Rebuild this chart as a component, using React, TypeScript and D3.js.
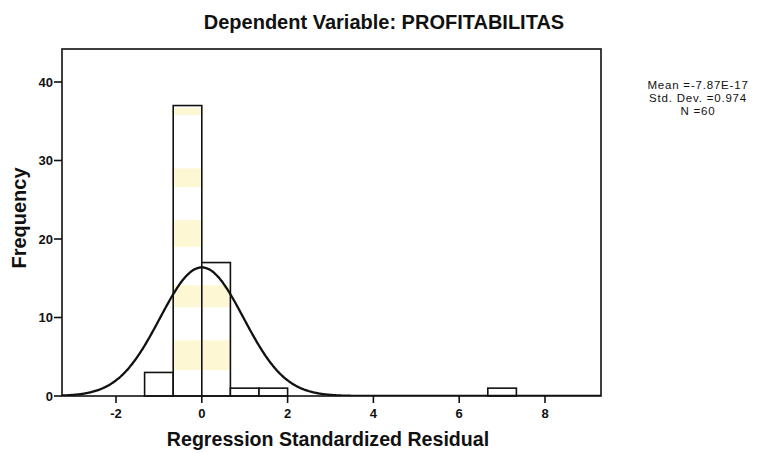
import React from 'react';
import * as d3 from 'd3';

// histogram bins (left edges, width 2/3) and counts
const binStarts = [-4 / 3, -2 / 3, 0, 2 / 3, 4 / 3, 20 / 3];
const counts = [3, 37, 17, 1, 1, 1];
const binWidth = 2 / 3;

const xTicks = [-2, 0, 2, 4, 6, 8];
const yTicks = [0, 10, 20, 30, 40];

// fitted normal reported by SPSS
const mean = -7.87e-17;
const stdDev = 0.974;
const n = 60;
const statLines = ['Mean =-7.87E-17', 'Std. Dev. =0.974', 'N =60'];

// faint yellow scan bands across the two middle bars (in frequency units)
const bands: [number, number][] = [
  [35.8, 36.7],
  [26.6, 29],
  [19, 22.4],
  [11.3, 14.1],
  [3.3, 7.1],
];

const W = 757;
const H = 453;
const frame = { left: 62, right: 601, top: 49, bottom: 396 };

const font = '"Liberation Sans", Arial, sans-serif';

export default function App() {
  const x = d3.scaleLinear().domain([-2, 8]).range([116, 545]);
  const y = d3.scaleLinear().domain([0, 40]).range([396, 82]);

  const xMin = x.invert(frame.left);
  const xMax = x.invert(frame.right);
  const pdf = (v: number) =>
    (n * binWidth) / (stdDev * Math.sqrt(2 * Math.PI)) *
    Math.exp(-((v - mean) ** 2) / (2 * stdDev * stdDev));
  const curvePts = d3.range(xMin, xMax, 0.02).concat([xMax]);
  const line = d3
    .line<number>()
    .x(d => x(d))
    .y(d => y(pdf(d)))
    .curve(d3.curveBasis);

  return (
    <div style={{ position: 'fixed', left: 0, top: 0, background: '#fff' }}>
      <svg width={W} height={H} viewBox={`0 0 ${W} ${H}`} style={{ display: 'block' }}>
        <rect width={W} height={H} fill="#fff" />
        <defs>
          <clipPath id="plot">
            <rect
              x={frame.left}
              y={frame.top}
              width={frame.right - frame.left}
              height={frame.bottom - frame.top}
            />
          </clipPath>
        </defs>

        <text
          x={384}
          y={29}
          textAnchor="middle"
          fontFamily={font}
          fontWeight="bold"
          fontSize={20}
          fill="#111"
        >
          Dependent Variable: PROFITABILITAS
        </text>

        {/* bars */}
        {binStarts.map((b, i) => (
          <g key={i}>
            <rect
              x={x(b)}
              y={y(counts[i])}
              width={x(b + binWidth) - x(b)}
              height={y(0) - y(counts[i])}
              fill="#fff"
            />
            {counts[i] > 10 &&
              bands
                .filter(([lo]) => lo < counts[i])
                .map(([lo, hi], j) => (
                  <rect
                    key={j}
                    x={x(b) + 1}
                    y={y(Math.min(hi, counts[i]))}
                    width={x(b + binWidth) - x(b) - 2}
                    height={y(lo) - y(Math.min(hi, counts[i]))}
                    fill="#fbf1a8"
                    opacity={0.5}
                  />
                ))}
            <rect
              x={x(b)}
              y={y(counts[i])}
              width={x(b + binWidth) - x(b)}
              height={y(0) - y(counts[i])}
              fill="none"
              stroke="#111"
              strokeWidth={1.6}
            />
          </g>
        ))}

        {/* normal curve */}
        <path
          d={line(curvePts) || ''}
          fill="none"
          stroke="#111"
          strokeWidth={2.3}
          clipPath="url(#plot)"
        />

        {/* frame */}
        <rect
          x={frame.left}
          y={frame.top}
          width={frame.right - frame.left}
          height={frame.bottom - frame.top}
          fill="none"
          stroke="#111"
          strokeWidth={1.6}
        />

        {/* y axis */}
        {yTicks.map(t => (
          <g key={t}>
            <line x1={frame.left - 8} x2={frame.left} y1={y(t)} y2={y(t)} stroke="#111" strokeWidth={1.6} />
            <text
              x={frame.left - 9}
              y={y(t) + 4.7}
              textAnchor="end"
              fontFamily={font}
              fontWeight="bold"
              fontSize={13}
              fill="#111"
            >
              {t}
            </text>
          </g>
        ))}

        {/* x axis */}
        {xTicks.map(t => (
          <g key={t}>
            <line x1={x(t)} x2={x(t)} y1={frame.bottom} y2={frame.bottom + 7} stroke="#111" strokeWidth={1.6} />
            <text
              x={x(t)}
              y={418}
              textAnchor="middle"
              fontFamily={font}
              fontWeight="bold"
              fontSize={13}
              fill="#111"
            >
              {t}
            </text>
          </g>
        ))}

        <text
          transform="translate(26,218) rotate(-90)"
          textAnchor="middle"
          fontFamily={font}
          fontWeight="bold"
          fontSize={20}
          fill="#111"
        >
          Frequency
        </text>

        <text
          x={328}
          y={446}
          textAnchor="middle"
          fontFamily={font}
          fontWeight="bold"
          fontSize={19.6}
          fill="#111"
        >
          Regression Standardized Residual
        </text>

        {statLines.map((s, i) => (
          <text
            key={s}
            x={698}
            y={89 + i * 13}
            textAnchor="middle"
            fontFamily={font}
            fontSize={11.5}
            letterSpacing={0.8}
            fill="#111"
          >
            {s}
          </text>
        ))}
      </svg>
    </div>
  );
}
